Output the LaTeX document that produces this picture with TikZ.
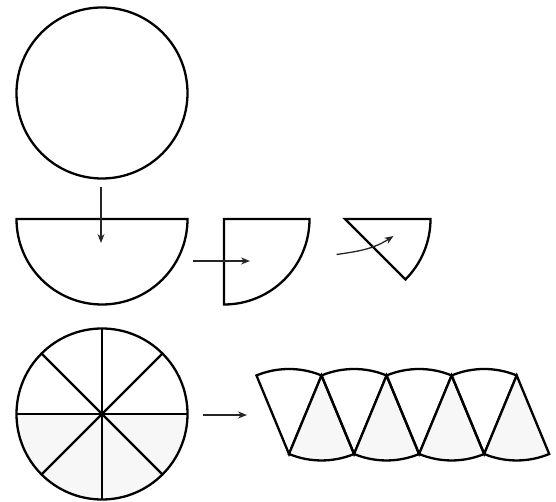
\documentclass[tikz,border=0pt]{standalone}
\usetikzlibrary{arrows.meta,calc}

\begin{document}
\begin{tikzpicture}[
    x=1pt, y=1pt,
    % Styles
    outline/.style={draw=black, line width=2.3pt, line join=miter},
    shade/.style={fill=black!3},
    move/.style={-{Stealth[length=9pt, width=7pt]}, line width=1.3pt, draw=black!85},
]
\useasboundingbox (0,0) rectangle (556,502);
\def\rad{85.5}

% ============================================================
% Whole circle
% ============================================================
\coordinate (full) at (102,409);
\draw[outline] (full) circle[radius=\rad];

% ============================================================
% Half, quarter and eighth
% ============================================================
\coordinate (half) at (102,283);
\coordinate (quarter) at (224,283);
\coordinate (eighth) at (345,283);

\draw[outline] ($(half)+(180:\rad)$) -- ($(half)+(0:\rad)$)
    arc[start angle=0, end angle=-180, radius=\rad] -- cycle;
\draw[outline] (quarter) -- ($(quarter)+(0:\rad)$)
    arc[start angle=0, end angle=-90, radius=\rad] -- cycle;
\draw[outline] (eighth) -- ($(eighth)+(0:\rad)$)
    arc[start angle=0, end angle=-45, radius=\rad] -- cycle;

% ============================================================
% Arrows (circle -> half -> quarter -> eighth)
% ============================================================
\coordinate (a1s) at (101,315);
\coordinate (a1e) at (101,259);
\coordinate (a2s) at (193,241);
\coordinate (a2e) at (250,241);
\coordinate (a3s) at (336.5,247.5);
\coordinate (a3e) at (393.5,266);

\draw[move] (a1s) -- (a1e);
\draw[move] (a2s) -- (a2e);
\draw[move] (a3s) to[out=8, in=213] (a3e);

% ============================================================
% Circle cut into eight sectors
% ============================================================
\coordinate (cut) at (102,88);
\fill[shade] ($(cut)+(180:\rad)$) arc[start angle=180, end angle=360, radius=\rad] -- cycle;
\draw[outline] (cut) circle[radius=\rad];
\foreach \a in {0,45,...,135} {
  \draw[outline] ($(cut)+(\a:\rad)$) -- ($(cut)+(\a+180:\rad)$);
}

% ============================================================
% Sectors laid out in a row
% ============================================================
\coordinate (a4s) at (203,87);
\coordinate (a4e) at (247,87);
\draw[move] (a4s) -- (a4e);

\pgfmathsetmacro{\secw}{2*85*sin(22.5)}
\coordinate (row) at (289,48);
\foreach \i in {0,...,3} {
  % arc on top, tip at the bottom
  \draw[outline] ($(row)+(\i*\secw,0)$) -- ++(112.5:85)
      arc[start angle=112.5, end angle=67.5, radius=85] -- cycle;
  % arc at the bottom, tip on top
  \draw[outline, shade] ($(row)+(\i*\secw,0)+(67.5:85)$) -- ++(247.5:85)
      arc[start angle=247.5, end angle=292.5, radius=85] -- cycle;
}

\end{tikzpicture}
\end{document}
